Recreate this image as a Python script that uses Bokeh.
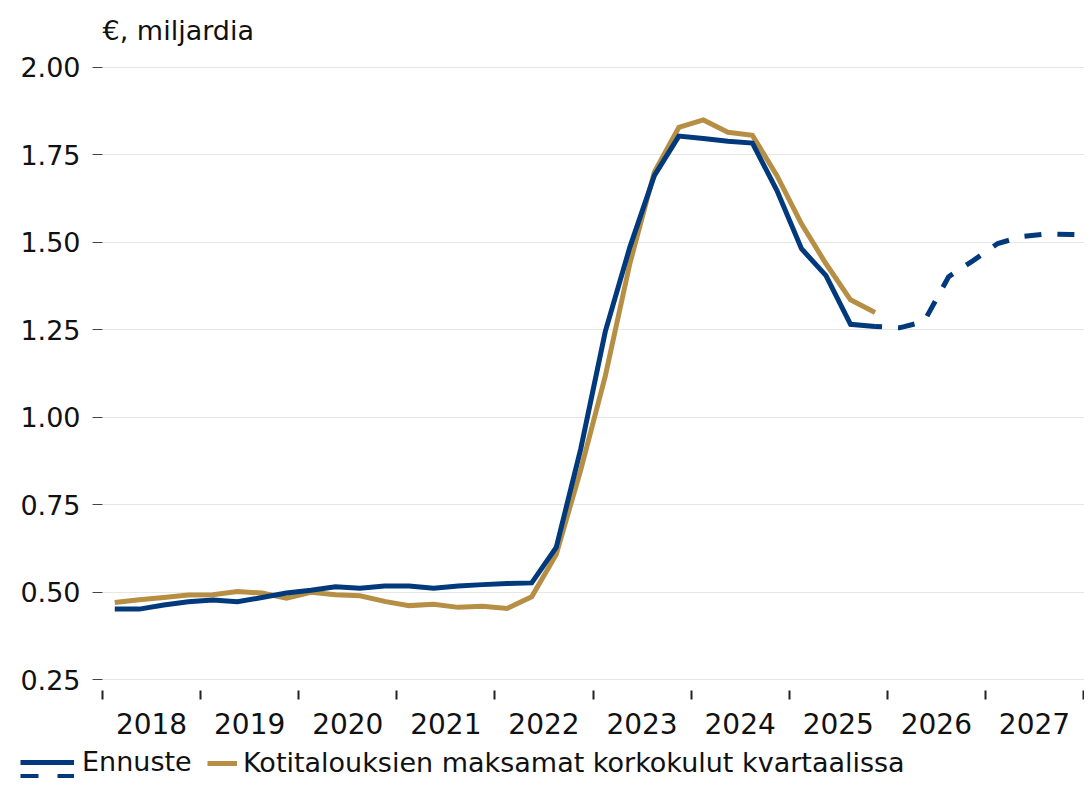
from bokeh.plotting import figure
from bokeh.layouts import column
from bokeh.models import FixedTicker, Legend, LegendItem, ColumnDataSource, NumeralTickFormatter
from bokeh.embed import file_html
from bokeh.resources import INLINE

# ---- data ----
hist_quarters = [f"{y}Q{q}" for y in range(2018, 2026) for q in range(1, 5)]
ennuste_hist = [0.452, 0.452, 0.464, 0.473, 0.478, 0.473, 0.485, 0.498,
                0.506, 0.516, 0.512, 0.518, 0.518, 0.512, 0.518, 0.522,
                0.525, 0.527, 0.628, 0.910, 1.245, 1.486, 1.691, 1.804,
                1.797, 1.789, 1.784, 1.648, 1.482, 1.405, 1.266, 1.260]
korkokulut = [0.471, 0.479, 0.485, 0.492, 0.493, 0.502, 0.498, 0.483,
              0.500, 0.493, 0.490, 0.474, 0.462, 0.466, 0.457, 0.460,
              0.454, 0.487, 0.608, 0.850, 1.118, 1.439, 1.701, 1.829,
              1.850, 1.815, 1.806, 1.691, 1.553, 1.439, 1.336, 1.300]
fc_quarters = ["2025Q4", "2026Q1", "2026Q2", "2026Q3", "2026Q4",
               "2027Q1", "2027Q2", "2027Q3", "2027Q4", "2028Q1"]
ennuste_fc = [1.260, 1.256, 1.274, 1.402, 1.448, 1.497, 1.517, 1.524, 1.523, 1.522]

year_labels = ["2018", "2019", "2020", "2021", "2022", "2023", "2024", "2025", "2026", "2027"]
y_ticks = [0.25, 0.50, 0.75, 1.00, 1.25, 1.50, 1.75, 2.00]
legend_labels = ["Ennuste", "Kotitalouksien maksamat korkokulut kvartaalissa"]

BLUE = "#003A7D"
GOLD = "#B68F45"
FONT = "DejaVu Sans"
TXT = "#111111"


def qx(label):
    return int(label[:4]) + (int(label[-1]) - 0.5) / 4.0


src_hist = ColumnDataSource(dict(x=[qx(q) for q in hist_quarters], e=ennuste_hist, k=korkokulut))
src_fc = ColumnDataSource(dict(x=[qx(q) for q in fc_quarters], e=ennuste_fc))

p = figure(width=1084, height=746, output_backend="svg", toolbar_location=None,
           x_range=(2018.0, 2028.01), y_range=(0.2194, 2.0314),
           min_border_left=102, min_border_right=0, min_border_top=56, min_border_bottom=56)
p.frame_align = False
p.outline_line_color = None
p.background_fill_color = "white"
p.border_fill_color = "white"

# title used as y-axis unit label
p.title.text = "€, miljardia"
p.title.text_font = FONT
p.title.text_font_size = "27px"
p.title.text_font_style = "normal"
p.title.text_color = TXT
p.title.align = "left"
p.title.vertical_align = "top"
p.title.standoff = 18

# grid
p.xgrid.visible = False
p.ygrid.ticker = FixedTicker(ticks=y_ticks)
p.ygrid.grid_line_color = "#e6e6e6"
p.ygrid.grid_line_width = 1

# y axis
ya = p.yaxis[0]
ya.ticker = FixedTicker(ticks=y_ticks)
ya.formatter = NumeralTickFormatter(format="0.00")
ya.axis_line_color = None
ya.major_tick_out = 10
ya.major_tick_in = 0
ya.major_tick_line_color = "#444444"
ya.minor_tick_line_color = None
ya.major_label_text_font = FONT
ya.major_label_text_font_size = "27px"
ya.major_label_text_color = TXT
ya.major_label_standoff = 12

# x axis: year boundaries as (minor) ticks, labels centred in each year
xa = p.xaxis[0]
mid = [int(y) + 0.5 for y in year_labels]
bounds = [int(y) for y in year_labels] + [int(year_labels[-1]) + 1]
xa.ticker = FixedTicker(ticks=mid, minor_ticks=bounds)
xa.major_label_overrides = {m: y for m, y in zip(mid, year_labels)}
xa.axis_line_color = None
xa.major_tick_out = 0
xa.major_tick_in = 0
xa.minor_tick_out = 9
xa.minor_tick_in = 0
xa.minor_tick_line_color = "#222222"
xa.minor_tick_line_width = 2
xa.major_label_text_font = FONT
xa.major_label_text_font_size = "28px"
xa.major_label_text_color = TXT
xa.major_label_standoff = 13

# lines
blue_style = dict(line_color=BLUE, line_width=5, line_join="miter")
gold_style = dict(line_color=GOLD, line_width=5, line_join="miter")
p.line("x", "k", source=src_hist, **gold_style)
p.line("x", "e", source=src_hist, **blue_style)
p.line("x", "e", source=src_fc, **blue_style, line_dash="17 16", line_dash_offset=10)

# ---- legend strip (separate figure so it can sit at the far left) ----
lf = figure(width=1084, height=32, output_backend="svg", toolbar_location=None,
            x_range=(0, 1), y_range=(0, 1), x_axis_location=None, y_axis_location=None,
            min_border_left=0, min_border_right=0, min_border_top=0, min_border_bottom=0)
lf.frame_align = False
lf.outline_line_color = None
lf.grid.visible = False
lf.border_fill_color = "white"
lf.background_fill_color = "white"
nan = float("nan")
empty = ColumnDataSource(dict(x=[nan], y=[nan]))
l_solid = lf.line("x", "y", source=empty, **blue_style)
l_dash = lf.line("x", "y", source=empty, **blue_style, line_dash="18 19")
l_gold = lf.line("x", "y", source=empty, **gold_style)

common = dict(orientation="horizontal", glyph_height=20, padding=0, margin=0,
              border_line_color=None, background_fill_alpha=0,
              label_text_font=FONT, label_text_font_size="27px", label_text_color=TXT)
# dashed half of the "Ennuste" key, drawn just under the solid half
leg1b = Legend(items=[LegendItem(label="", renderers=[l_dash])],
               location=(20, -8), glyph_width=54, label_standoff=8, **common)
leg1 = Legend(items=[LegendItem(label=legend_labels[0], renderers=[l_solid])],
              location=(20, 1), glyph_width=54, label_standoff=8, **common)
leg2 = Legend(items=[LegendItem(label=legend_labels[1], renderers=[l_gold])],
              location=(207, 0), glyph_width=30, label_standoff=6, **common)
lf.add_layout(leg1b, "center")
lf.add_layout(leg1, "center")
lf.add_layout(leg2, "center")

layout = column(p, lf, spacing=0)
open("out.html", "w").write(file_html(layout, INLINE))
